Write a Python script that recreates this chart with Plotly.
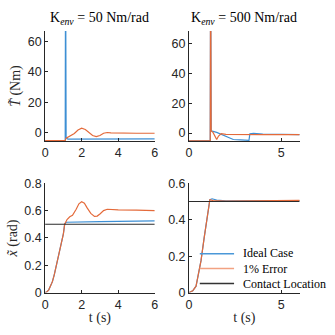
import plotly.graph_objects as go
from plotly.subplots import make_subplots

BLUE = "#3d8fd4"
ORANGE = "#e46a3a"
BLACK = "#2b2b2b"
AX = "#262626"

# --- top left: K_env = 50, torque error
t_tl_ideal = [0, 1.10, 1.12, 1.15, 1.25, 3, 6]
T_tl_ideal = [-5.2, -5.2, 120, -3.2, -4.2, -4.1, -4.0]
t_tl_err = [0, 1.10, 1.15, 1.25, 1.4, 1.6, 1.8, 2.0, 2.2, 2.4, 2.6, 2.8, 3.0, 3.2, 3.4, 3.6, 4, 5, 6]
T_tl_err = [-5.2, -5.2, -3.5, -2.8, -2.0, -0.5, 1.8, 3.0, 2.2, 0.0, -1.8, -2.5, -1.8, -0.3, 0.2, 0.0, -0.2, -0.3, -0.3]

# --- top right: K_env = 500, torque error
t_tr_ideal = [0, 1.15, 1.17, 1.2, 1.5, 1.8, 2.1, 2.4, 2.8, 3.25, 3.3, 3.5, 4, 6]
T_tr_ideal = [-5.2, -5.2, 120, 1.5, 0.5, -1.0, -2.8, -4.3, -4.5, -4.9, -0.5, -0.2, -0.6, -1.0]
t_tr_err = [0, 1.15, 1.17, 1.2, 1.3, 1.4, 1.5, 1.6, 1.75, 2.0, 3, 4, 6]
T_tr_err = [-5.2, -5.2, 120, 1.5, 0.5, -2.5, -4.3, -2.0, -0.3, -0.8, -1.0, -1.0, -1.0]

# --- bottom left: K_env = 50, position
t_bl_ideal = [0, 0.1, 0.2, 0.3, 0.4, 0.5, 0.6, 0.7, 0.8, 0.9, 1.0, 1.07, 1.15, 3, 6]
x_bl_ideal = [0, 0.005, 0.02, 0.045, 0.08, 0.13, 0.19, 0.25, 0.31, 0.37, 0.43, 0.5, 0.515, 0.52, 0.525]
t_bl_err = [0, 0.1, 0.2, 0.3, 0.4, 0.5, 0.6, 0.7, 0.8, 0.9, 1.0, 1.07, 1.2, 1.35, 1.5, 1.7,
            1.85, 2.0, 2.15, 2.3, 2.5, 2.7, 2.85, 3.0, 3.2, 3.4, 3.6, 4, 5, 6]
x_bl_err = [0, 0.005, 0.02, 0.045, 0.08, 0.13, 0.19, 0.25, 0.31, 0.37, 0.43, 0.5, 0.535, 0.555, 0.565, 0.61,
            0.65, 0.665, 0.655, 0.62, 0.58, 0.558, 0.56, 0.575, 0.6, 0.61, 0.608, 0.605, 0.603, 0.60]

# --- bottom right: K_env = 500, position
t_br_ideal = [0, 0.2, 0.38, 0.5, 0.65, 0.82, 1.0, 1.13, 1.25, 1.5, 2, 3, 6]
x_br_ideal = [0, 0.01, 0.035, 0.09, 0.175, 0.30, 0.44, 0.51, 0.515, 0.508, 0.503, 0.503, 0.505]
t_br_err = [0, 0.2, 0.38, 0.5, 0.65, 0.82, 1.0, 1.13, 1.3, 2, 6]
x_br_err = [0, 0.01, 0.035, 0.09, 0.175, 0.30, 0.44, 0.51, 0.505, 0.502, 0.506]

t_contact = [0, 6]
x_contact = [0.5, 0.5]

titles = ["K<sub><i>env</i></sub> = 50 Nm/rad", "K<sub><i>env</i></sub> = 500 Nm/rad"]
legend_names = ["Ideal Case", "1% Error", "Contact Location"]
legend_colors = ["#4a98d8", "#f2a282", "#333333"]

fig = make_subplots(rows=2, cols=2)


def line(x, y, color, name, row, col, width=1.2):
    fig.add_trace(go.Scatter(x=x, y=y, mode="lines", name=name, showlegend=False,
                             line=dict(color=color, width=width)), row=row, col=col)


line(t_tl_ideal, T_tl_ideal, BLUE, "Ideal Case", 1, 1)
line(t_tl_err, T_tl_err, ORANGE, "1% Error", 1, 1)
line(t_tr_ideal, T_tr_ideal, BLUE, "Ideal Case", 1, 2)
line(t_tr_err, T_tr_err, ORANGE, "1% Error", 1, 2)
line(t_bl_ideal, x_bl_ideal, BLUE, "Ideal Case", 2, 1)
line(t_bl_err, x_bl_err, ORANGE, "1% Error", 2, 1)
line(t_contact, x_contact, BLACK, "Contact Location", 2, 1)
line(t_br_ideal, x_br_ideal, BLUE, "Ideal Case", 2, 2)
line(t_br_err, x_br_err, ORANGE, "1% Error", 2, 2)
line(t_contact, x_contact, BLACK, "Contact Location", 2, 2)

W = 335
xd = [[43 / W, 155 / W], [190 / W, 303 / W]]
yd = [[1 - 140 / W, 1 - 25 / W], [1 - 298 / W, 1 - 184 / W]]

axstyle = dict(showline=True, linecolor=AX, linewidth=1, ticks="inside", ticklen=3,
               tickcolor=AX, showgrid=False, zeroline=False,
               tickfont=dict(family="Liberation Sans", size=12.5, color=AX))

xticks = [[0, 2, 4, 6], [0, 5]]
yranges = [[[-5.5, 67], [-5.4, 68.5]], [[0, 0.8], [0, 0.6]]]
yticks = [[[0, 20, 40, 60], [0, 20, 40, 60]],
          [[0, 0.2, 0.4, 0.6, 0.8], [0, 0.2, 0.4, 0.6]]]

for r in range(2):
    for c in range(2):
        fig.update_xaxes(domain=xd[c], range=[0, 6], tickvals=xticks[c], row=r + 1, col=c + 1, **axstyle)
        fig.update_yaxes(domain=yd[r], range=yranges[r][c], tickvals=yticks[r][c],
                         row=r + 1, col=c + 1, **axstyle)

serif = dict(family="Liberation Serif", size=14, color=AX)
fig.update_yaxes(title=dict(text="<i>T̃</i> (Nm)", font=serif, standoff=3), row=1, col=1)
fig.update_yaxes(title=dict(text="<i>x̃</i> (rad)", font=serif, standoff=3), row=2, col=1)
fig.update_xaxes(title=dict(text="t (s)", font=serif, standoff=1), row=2, col=1)
fig.update_xaxes(title=dict(text="t (s)", font=serif, standoff=1), row=2, col=2)

for i, txt in enumerate(titles):
    fig.add_annotation(text=txt, xref="paper", yref="paper", x=sum(xd[i]) / 2, y=1 - 12 / W,
                       showarrow=False, font=dict(family="Liberation Serif", size=14, color="black"),
                       xanchor="center", yanchor="middle")

# legend drawn by hand: one text block, line samples spaced at its line height
LEG_FS = 12
row_h = LEG_FS * 1.3
for i, col in enumerate(legend_colors):
    yy = 1 - (273 + (i - 1) * row_h) / W
    fig.add_shape(type="line", xref="paper", yref="paper", x0=201 / W, x1=236 / W, y0=yy, y1=yy,
                  line=dict(color=col, width=1.5))
fig.add_annotation(text="<br>".join(legend_names), xref="paper", yref="paper", x=244 / W, y=1 - 273 / W,
                   showarrow=False, xanchor="left", yanchor="middle", align="left", borderpad=0,
                   font=dict(family="Liberation Serif", size=LEG_FS, color="black"))

fig.update_layout(
    width=W, height=W, margin=dict(l=0, r=0, t=0, b=0),
    paper_bgcolor="white", plot_bgcolor="white",
)

fig.write_html("out.html", config={"displayModeBar": False},
               post_script="document.body.style.margin='0';")
